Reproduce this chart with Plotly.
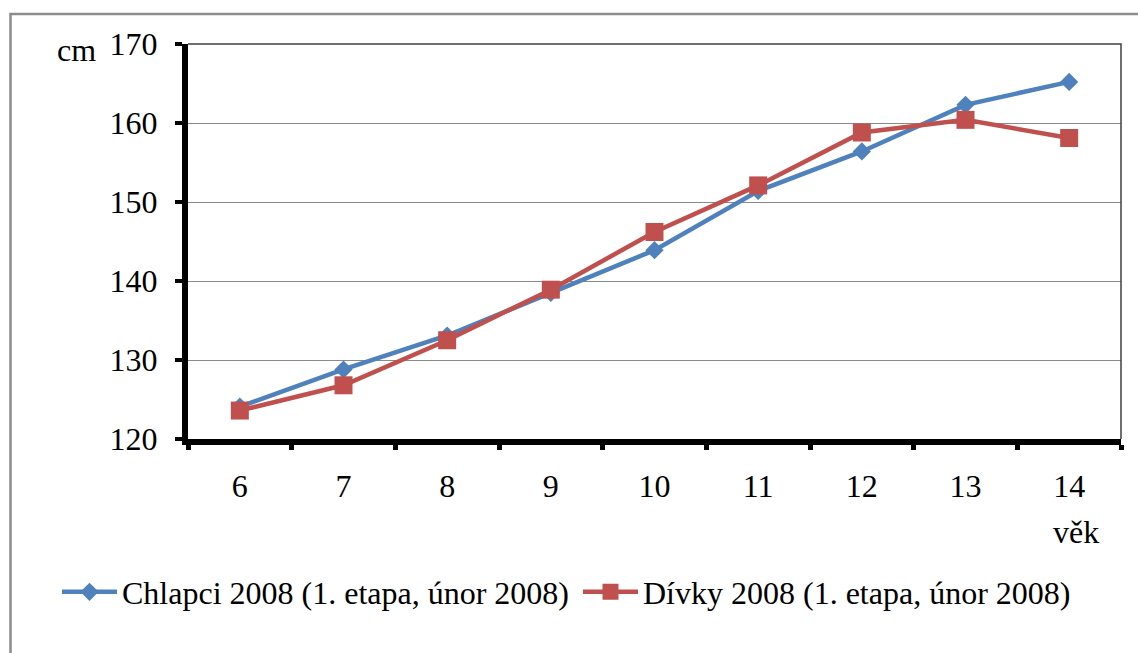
import plotly.graph_objects as go

# Body height by age (cm)
ages = ["6", "7", "8", "9", "10", "11", "12", "13", "14"]
boys_cm = [124.1, 128.8, 133.1, 138.5, 143.9, 151.4, 156.4, 162.3, 165.2]
girls_cm = [123.6, 126.8, 132.5, 138.9, 146.2, 152.1, 158.8, 160.4, 158.1]
y_ticks = [120, 130, 140, 150, 160, 170]

boys_name = "Chlapci 2008 (1. etapa, únor 2008)"
girls_name = "Dívky 2008 (1. etapa, únor 2008)"
y_unit = "cm"
x_unit = "věk"

# Page geometry (pixels)
W, H = 1138, 653
L, R, T, B = 188, 17, 44, 214
PW, PH = W - L - R, H - T - B


def px_x(p):
    return (p - L) / PW


def px_y(p):
    return (H - B - p) / PH


FONT = "Liberation Serif"
FS = 32
BLUE = "#4F81BD"
RED = "#C0504D"

fig = go.Figure()
fig.add_trace(go.Scatter(
    x=ages, y=boys_cm, name=boys_name, mode="lines+markers",
    line=dict(color=BLUE, width=4.5),
    marker=dict(symbol="diamond", size=14, color=BLUE),
    legend="legend", hoverinfo="skip",
))
fig.add_trace(go.Scatter(
    x=ages, y=girls_cm, name=girls_name, mode="lines+markers",
    line=dict(color=RED, width=4.5),
    marker=dict(symbol="square", size=18, color=RED),
    legend="legend2", hoverinfo="skip",
))

legend_common = dict(
    orientation="h", yanchor="middle", xanchor="left",
    font=dict(family=FONT, size=FS, color="black"),
    bgcolor="rgba(0,0,0,0)", borderwidth=0, itemwidth=55,
)

fig.update_layout(
    width=W, height=H,
    margin=dict(l=L, r=R, t=T, b=B, pad=0),
    paper_bgcolor="white", plot_bgcolor="white",
    font=dict(family=FONT, size=FS, color="black"),
    showlegend=True,
    legend=dict(x=px_x(57), y=px_y(592), **legend_common),
    legend2=dict(x=px_x(578), y=px_y(592), **legend_common),
    xaxis=dict(
        type="category", range=[-0.5, 8.5],
        showline=True, linewidth=6, linecolor="black",
        ticks="outside", tickson="boundaries", ticklen=5, tickwidth=5, tickcolor="black",
        tickfont=dict(family=FONT, size=FS, color="black"),
        ticklabelstandoff=14,
        showgrid=False, zeroline=False, fixedrange=True,
    ),
    yaxis=dict(
        range=[120, 170], tickvals=y_ticks,
        showline=True, linewidth=6, linecolor="black",
        ticks="outside", ticklen=7, tickwidth=4, tickcolor="black",
        tickfont=dict(family=FONT, size=FS, color="black"),
        ticklabelstandoff=11,
        showgrid=True, gridcolor="#8a8a8a", gridwidth=1,
        zeroline=False, fixedrange=True,
    ),
    shapes=[
        # thin frame on the top and right of the plot area
        dict(type="path", xref="paper", yref="paper",
             path="M 0,1 L 1,1 L 1,0", line=dict(color="#404040", width=1.5)),
        # outer chart frame
        dict(type="path", xref="paper", yref="paper",
             path=f"M {px_x(10.5)},{px_y(700)} L {px_x(10.5)},{px_y(14)} L {px_x(1160)},{px_y(14)}",
             line=dict(color="#8c8c8c", width=2.5)),
    ],
    annotations=[
        dict(text=y_unit, xref="paper", yref="paper", x=px_x(55), y=px_y(50),
             xanchor="left", yanchor="middle", showarrow=False,
             font=dict(family=FONT, size=FS, color="black")),
        dict(text=x_unit, xref="paper", yref="paper", x=px_x(1051), y=px_y(532),
             xanchor="left", yanchor="middle", showarrow=False,
             font=dict(family=FONT, size=FS, color="black")),
    ],
)

fig.write_html("out.html", config={"displayModeBar": False})
